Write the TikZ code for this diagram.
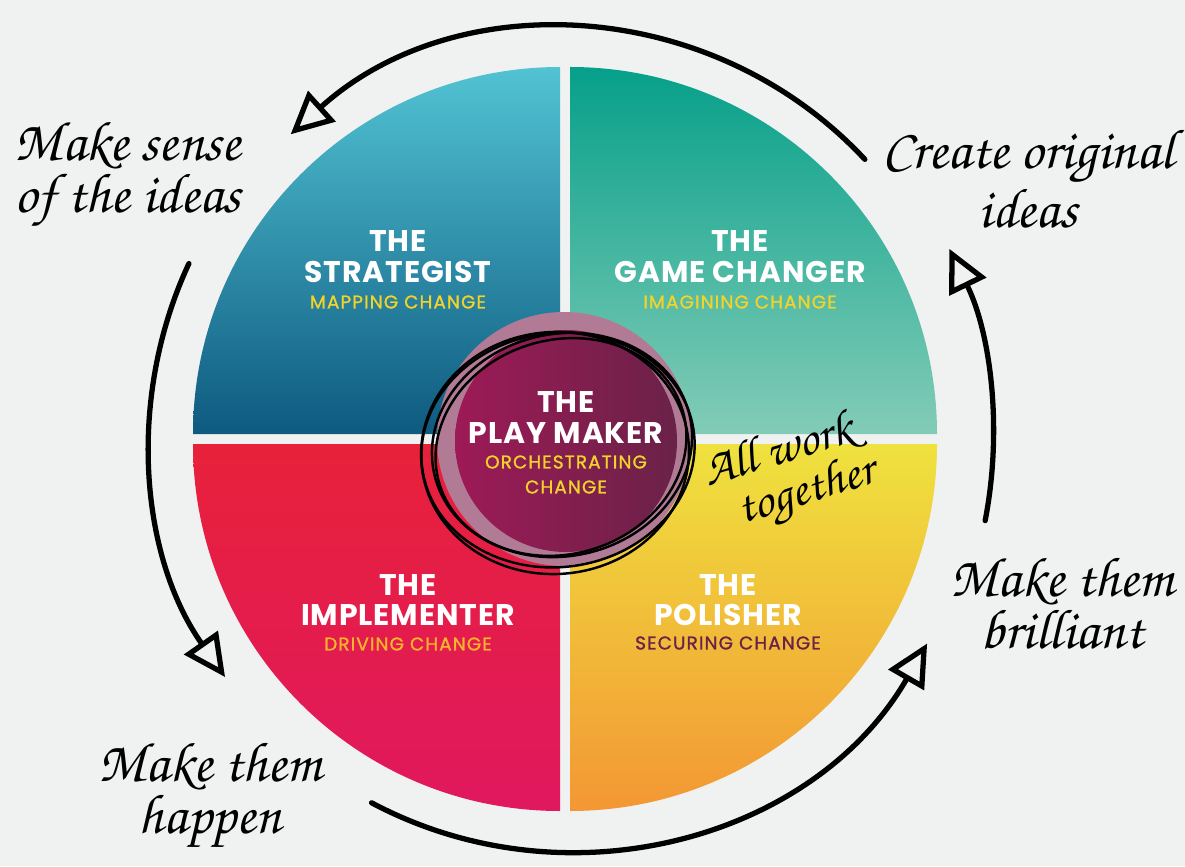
\documentclass[tikz,border=0pt]{standalone}
\usepackage[T1]{fontenc}
\usepackage{fontspec}
\setsansfont{Poppins}
\newfontfamily\ttlfont{Poppins}[LetterSpace=3]
\newfontfamily\subfont{Poppins}[LetterSpace=6, FakeBold=1.2]
\usetikzlibrary{arrows.meta}
\definecolor{bg}{HTML}{F0F1F1}
\definecolor{tlTop}{HTML}{52C3D3}
\definecolor{tlBot}{HTML}{0E5A80}
\definecolor{trTop}{HTML}{06A08A}
\definecolor{trBot}{HTML}{83CCB7}
\definecolor{blTop}{HTML}{E8213A}
\definecolor{blBot}{HTML}{E0185F}
\definecolor{brTop}{HTML}{EFE23E}
\definecolor{brBot}{HTML}{F39734}
\definecolor{subyel}{HTML}{F2D32B}
\definecolor{subora}{HTML}{F7B52A}
\definecolor{subpur}{HTML}{6B2148}
\definecolor{ring}{HTML}{B27B95}
\definecolor{innerL}{HTML}{9D1A56}
\definecolor{innerR}{HTML}{6A2248}
\newcommand{\handfont}{\fontencoding{T1}\fontfamily{pzc}\fontseries{mb}\fontshape{it}\selectfont}
\begin{document}
\begin{tikzpicture}[x=0.02cm,y=0.02cm,
  ttl/.style={font=\ttlfont\bfseries\fontsize{17}{17}\selectfont, text=white, inner sep=0pt},
  subt/.style={font=\subfont\fontsize{10.5}{10.5}\selectfont, inner sep=0pt},
  hand/.style={font=\handfont\fontsize{32}{28}\selectfont, align=center, text=black, inner sep=0pt},
  handarrow/.style={line width=3, -{Triangle[open,length=24,width=23,line width=3]}, line cap=round},
  scribble/.style={line width=1.4pt, black}]
\fill[bg] (0,0) rectangle (1185,866);
\useasboundingbox (0,0) rectangle (1185,866);
\coordinate (C) at (565,427);
% quadrants
\shade[top color=tlTop, bottom color=tlBot] (560,432) -- ++(-367,0) arc[start angle=180,end angle=90,radius=367] -- cycle;
\shade[top color=trTop, bottom color=trBot] (570,432) -- ++(0,367) arc[start angle=90,end angle=0,radius=367] -- cycle;
\shade[top color=blTop, bottom color=blBot] (560,422) -- ++(-367,0) arc[start angle=180,end angle=270,radius=367] -- cycle;
\shade[top color=brTop, bottom color=brBot] (570,422) -- ++(0,-367) arc[start angle=270,end angle=360,radius=367] -- cycle;
% centre
\fill[ring] (564,427) circle[radius=127];
\shade[left color=innerL, right color=innerR] (566,425) circle[radius=111];
% scribble
\draw[scribble, rotate around={8:(558,416)}] (558,416) ellipse[x radius=137, y radius=117];
\draw[scribble, rotate around={13:(562,421)}] (562,421) ellipse[x radius=131, y radius=111];
\draw[scribble, rotate around={4:(555,413)}] (555,413) ellipse[x radius=134, y radius=121];
\draw[scribble, rotate around={17:(561,419)}] (561,419) ellipse[x radius=127, y radius=107];
% quadrant texts
\node[ttl] (s1) at (398,625) {THE};
\node[ttl] (s2) at (398,594) {STRATEGIST};
\node[subt, text=subyel] (s3) at (398,564) {MAPPING CHANGE};
\node[ttl] (g1) at (740,625) {THE};
\node[ttl] (g2) at (740,594) {GAME CHANGER};
\node[subt, text=subyel] (g3) at (740,564) {IMAGINING CHANGE};
\node[ttl] (i1) at (408,281) {THE};
\node[ttl] (i2) at (408,251) {IMPLEMENTER};
\node[subt, text=subora] (i3) at (408,222) {DRIVING CHANGE};
\node[ttl] (p1) at (728,281) {THE};
\node[ttl] (p2) at (728,251) {POLISHER};
\node[subt, text=subpur] (p3) at (728,223) {SECURING CHANGE};
\node[ttl] (m1) at (566,464) {THE};
\node[ttl] (m2) at (566,433) {PLAY MAKER};
\node[subt, text=subyel] (m3) at (566,404) {ORCHESTRATING};
\node[subt, text=subyel] (m4) at (566,379) {CHANGE};
% handwritten labels
\node[hand] (h1) at (128,691) {Make sense\\of the ideas};
\node[hand] (h2) at (1028,688) {Create original\\ideas};
\node[hand] (h3) at (1062,263) {Make them\\brilliant};
\node[hand] (h4) at (210,70) {Make them\\happen};
\node[hand, rotate=17, font=\handfont\fontsize{28}{26}\selectfont] (h5) at (786,390) {All work\\\hspace*{0.6em}together};
% arrows
\draw[handarrow] (C) ++(43:410) arc[start angle=43,end angle=132,radius=410];
\draw[handarrow] (C) ++(155:415) arc[start angle=155,end angle=215,radius=415];
\draw[handarrow] (C) ++(242:412) arc[start angle=242,end angle=330,radius=416];
\draw[handarrow] (C) ++(-11:428) arc[start angle=-11,end angle=26,radius=432];
\end{tikzpicture}
\end{document}
